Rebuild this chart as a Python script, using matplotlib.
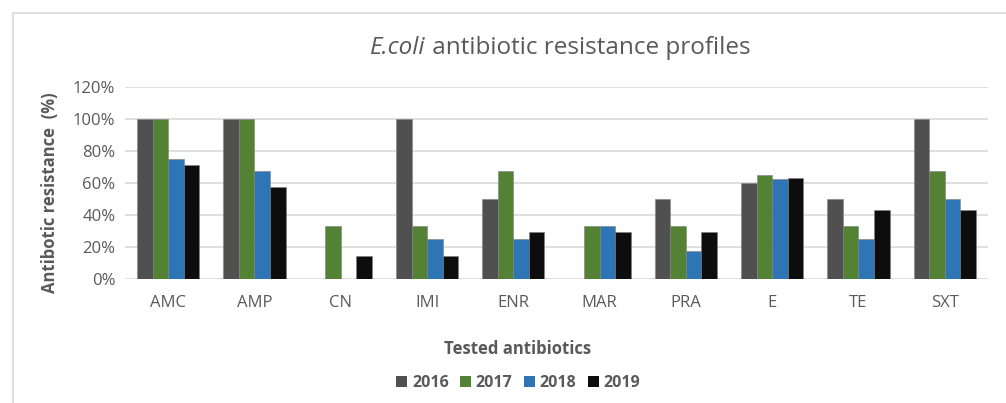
import numpy as np
import matplotlib.pyplot as plt
from matplotlib.patches import Rectangle
from matplotlib.ticker import PercentFormatter

# resistance (%) per antibiotic, one list per year
antibiotics = ['AMC', 'AMP', 'CN', 'IMI', 'ENR', 'MAR', 'PRA', 'E', 'TE', 'SXT']
years = ['2016', '2017', '2018', '2019']
r2016 = [100, 100, 0, 100, 50, 0, 50, 60, 50, 100]
r2017 = [100, 100, 33, 33, 67, 33, 33, 65, 33, 67]
r2018 = [75, 67, 0, 25, 25, 33, 17, 62, 25, 50]
r2019 = [71, 57, 14, 14, 29, 29, 29, 63, 43, 43]
colors = ['#505050', '#548235', '#2E75B6', '#0D0D0D']

plt.rcParams['font.family'] = ['Open Sans', 'DejaVu Sans']
txt = '#595959'

fig = plt.figure(figsize=(10.06, 4.03), dpi=100)
ax = fig.add_axes([0.1243, 0.3085, 0.8577, 0.4765])

# chart frame (right edge runs off the image)
fig.patches.append(Rectangle((13 / 1006, -0.1), 1.1, 1 - 13 / 403 + 0.1,
                             transform=fig.transFigure, fill=False,
                             edgecolor='#D9D9D9', linewidth=1.2))

x = np.arange(len(antibiotics))
w = 0.18
for i, (vals, yr) in enumerate(zip([r2016, r2017, r2018, r2019], years)):
    ax.bar(x + (i - 1.5) * w, np.array(vals) / 100, w, color=colors[i],
           edgecolor='#7F7F7F', linewidth=0.4, label=yr, zorder=3)

ax.set_xlim(-0.5, len(antibiotics) - 0.5)
ax.set_ylim(0, 1.2)
ax.set_yticks(np.arange(0, 1.21, 0.2))
ax.yaxis.set_major_formatter(PercentFormatter(1.0, decimals=0))
ax.set_xticks(x)
ax.set_xticklabels(antibiotics)
ax.tick_params(length=0, labelsize=12, colors=txt, pad=7)
ax.tick_params(axis='x', pad=12)
ax.grid(axis='y', color='#D9D9D9', linewidth=1.2, zorder=0)
for s in ax.spines.values():
    s.set_visible(False)

# title: italic species name followed by plain text
t1 = fig.text(370 / 1006, 0.866, 'E.coli', fontsize=17.5, fontstyle='italic',
              color=txt, ha='left', va='baseline')
ax.annotate(' antibiotic resistance profiles', xy=(1, 0), xycoords=t1,
            fontsize=17.5, color=txt, ha='left', va='bottom')

fig.text(0.05, 0.523, 'Antibotic resistance  (%)', rotation=90, fontsize=12,
         fontweight='bold', color=txt, ha='center', va='center')
fig.text(0.514, 0.134, 'Tested antibiotics', fontsize=12, fontweight='bold',
         color=txt, ha='center', va='center')

leg = fig.legend(loc='center', bbox_to_anchor=(0.515, 0.05), ncol=4, frameon=False,
                 handlelength=0.7, handleheight=0.7, handletextpad=0.3,
                 columnspacing=0.7, prop={'weight': 'bold', 'size': 11.5})
for t in leg.get_texts():
    t.set_color(txt)
for h in leg.legend_handles:
    h.set_edgecolor('none')

fig.savefig('out.png', dpi=100)
